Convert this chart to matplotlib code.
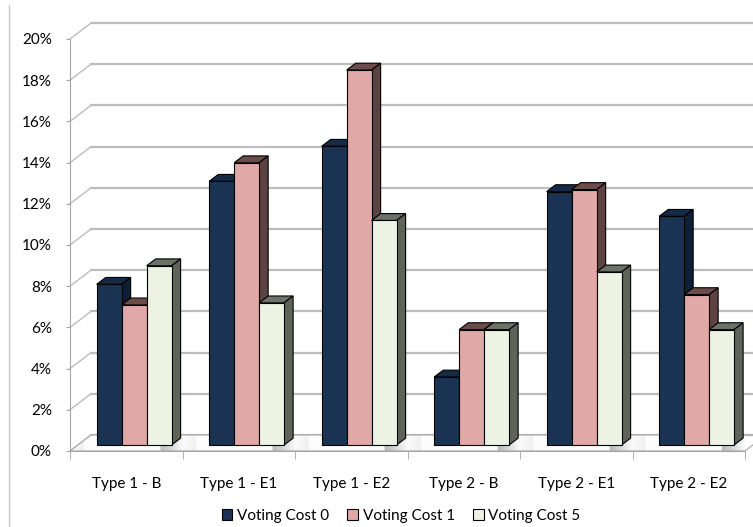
import matplotlib
matplotlib.use("Agg")
import matplotlib.pyplot as plt
from matplotlib.patches import Polygon, Patch
from matplotlib.lines import Line2D
import numpy as np

# ---- data -------------------------------------------------------------
categories = ["Type 1 - B", "Type 1 - E1", "Type 1 - E2",
              "Type 2 - B", "Type 2 - E1", "Type 2 - E2"]
series_names = ["Voting Cost 0", "Voting Cost 1", "Voting Cost 5"]
cost0 = [7.8, 12.8, 14.5, 3.3, 12.3, 11.1]
cost1 = [6.8, 13.7, 18.2, 5.6, 12.4, 7.3]
cost5 = [8.7, 6.9, 10.9, 5.6, 8.4, 5.6]
y_ticks = [0, 2, 4, 6, 8, 10, 12, 14, 16, 18, 20]

series_values = [cost0, cost1, cost5]
front_colors = ["#1a3352", "#e0a8a6", "#edf2e3"]
side_colors = ["#0e2038", "#5c4240", "#5f6459"]
top_colors = ["#142a46", "#6b4c49", "#6d7268"]

plt.rcParams["font.family"] = ["Lato", "DejaVu Sans"]

W, H = 753, 527
fig = plt.figure(figsize=(W / 100, H / 100), dpi=100)
fig.patch.set_facecolor("white")

# front plane of the plot box in pixels
x0_px, x1_px, y0_px, y1_px = 70, 745, 451, 39
ax = fig.add_axes([x0_px / W, (H - y0_px) / H,
                   (x1_px - x0_px) / W, (y0_px - y1_px) / H])
n = len(categories)
ax.set_facecolor("none")

px_x = (x1_px - x0_px) / n          # pixels per category
px_y = (y0_px - y1_px) / 20.0       # pixels per percent
DX = 21 / px_x                      # oblique depth offset (full depth)
DY = 16 / px_y

def proj(x, y, d):
    return (x + d * DX, y + d * DY)

grid_c = "#bdbdbd"
axis_c = "#a6a6a6"

# back wall gridlines and left wall connectors
for v in y_ticks:
    bx, by = proj(0, v, 1)
    ax.add_line(Line2D([bx, n + 0.3], [by, by], color=grid_c, lw=1.6,
                       clip_on=False, zorder=1))
    ax.add_line(Line2D([0, bx], [v, by], color=grid_c, lw=1.0,
                       clip_on=False, zorder=1))

# floor with soft shading to the right of each group
floor_pts = [proj(0, 0, 0), proj(n, 0, 0), proj(n, 0, 1), proj(0, 0, 1)]
gx = np.linspace(0, n + DX, 900)
frac = gx % 1.0
shade = np.where(frac > 0.80, 0.72 + 0.26 * (frac - 0.80) / 0.20,
                 np.where(frac < 0.12, 0.98 - 0.04 * frac / 0.12, 0.99))
grad = np.tile(shade, (20, 1))
im = ax.imshow(grad, extent=[0, n + DX, 0, DY], cmap="gray", vmin=0, vmax=1,
               aspect="auto", origin="lower", zorder=2,
               interpolation="bilinear")
im.set_clip_path(Polygon(floor_pts, closed=True, transform=ax.transData))
ax.add_patch(Polygon(floor_pts, closed=True, facecolor="none",
                     edgecolor=axis_c, lw=0.8, clip_on=False, zorder=2.1))
ax.set_xlim(0, n)
ax.set_ylim(0, 20)

# bars: front at depth f0, thickness fd
f0, fd = 0.375, 0.43
bw = 0.222
ex, ey = fd * DX, fd * DY
base = f0 * DY
for c in range(n):
    for i, vals in enumerate(series_values):
        left = c + 0.5 - 1.5 * bw + i * bw + f0 * DX
        h = vals[c]
        z = 3 + c * 0.1 + i * 0.01
        top = Polygon([(left, base + h), (left + bw, base + h),
                       (left + bw + ex, base + h + ey), (left + ex, base + h + ey)],
                      closed=True, facecolor=top_colors[i], edgecolor="black",
                      lw=0.8, zorder=z)
        side = Polygon([(left + bw, base), (left + bw, base + h),
                        (left + bw + ex, base + h + ey), (left + bw + ex, base + ey)],
                       closed=True, facecolor=side_colors[i], edgecolor="black",
                       lw=0.8, zorder=z)
        ax.add_patch(top)
        ax.add_patch(side)
        ax.bar(left, h, width=bw, bottom=base, align="edge",
               color=front_colors[i], edgecolor="black", lw=0.8, zorder=z + 0.005)

# axes, ticks and labels
for s in ["top", "right"]:
    ax.spines[s].set_visible(False)
ax.spines["left"].set_color(axis_c)
ax.spines["bottom"].set_color(axis_c)
ax.spines["left"].set_zorder(2.5)
ax.spines["bottom"].set_zorder(2.5)
ax.set_yticks(y_ticks)
ax.set_yticklabels([f"{v}%" for v in y_ticks])
ax.tick_params(axis="y", length=3, color=axis_c, pad=10, labelsize=11,
               labelcolor="#000000")
ax.set_xticks(np.arange(n) + 0.5)
ax.set_xticklabels(categories)
ax.tick_params(axis="x", which="major", length=0, pad=19, labelsize=11,
               labelcolor="#000000")
ax.set_xticks(np.arange(n + 1), minor=True)
ax.tick_params(axis="x", which="minor", length=6, color=axis_c)

# chart area border on the left
fig.add_artist(Line2D([9 / W, 9 / W], [0, 1 - 5 / H], color="#c8c8c8", lw=1.0))

handles = [Patch(facecolor=front_colors[i], edgecolor="black", lw=0.8,
                 label=series_names[i]) for i in range(3)]
fig.legend(handles=handles, loc="center", bbox_to_anchor=(401 / W, (H - 516) / H),
           ncol=3, frameon=False, fontsize=11, handlelength=0.7,
           handleheight=0.7, handletextpad=0.3, columnspacing=1.2)

fig.savefig("out.png", dpi=100, facecolor="white")
